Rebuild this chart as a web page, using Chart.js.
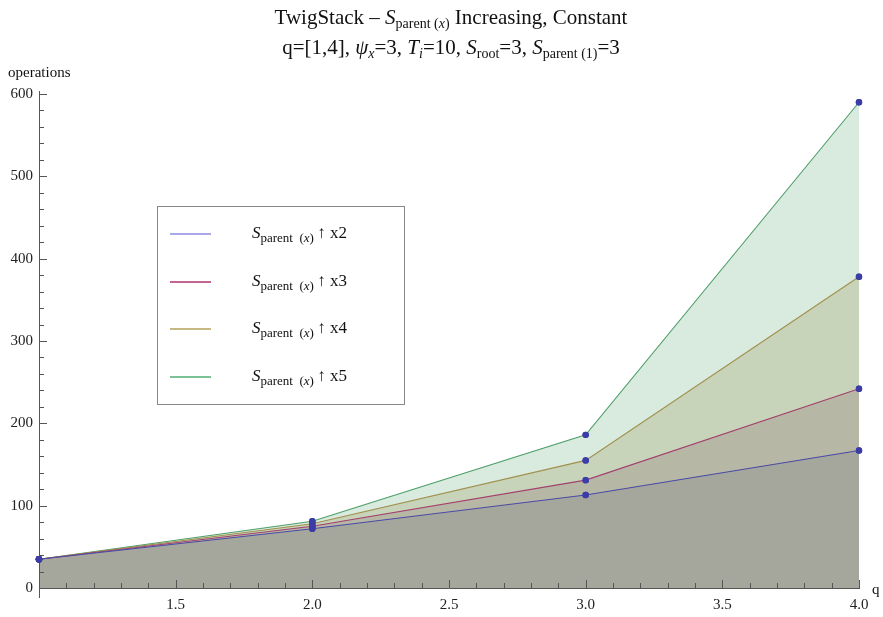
<!DOCTYPE html>
<html>
<head>
<meta charset="utf-8">
<script src="https://cdn.jsdelivr.net/npm/chart.js@4.4.1/dist/chart.umd.min.js"></script>
<style>
  html, body { margin: 0; padding: 0; background: #fff; }
  #wrap { width: 883px; height: 617px; position: relative; }
</style>
</head>
<body>
<div id="wrap"><canvas id="c" width="883" height="617"></canvas></div>
<script>
// ---- data ----
const qValues = [1, 2, 3, 4];
const seriesLabels = ['x2', 'x3', 'x4', 'x5'];
const opsX2 = [35, 72, 113, 167];
const opsX3 = [35, 75, 131, 242];
const opsX4 = [35, 78, 155, 378];
const opsX5 = [35, 81, 186, 590];
const xTickValues = [1.5, 2.0, 2.5, 3.0, 3.5, 4.0];
const yTickValues = [0, 100, 200, 300, 400, 500, 600];

const allSeries = [opsX2, opsX3, opsX4, opsX5];
const lineColors = ['#4a4aa8', '#a3406e', '#a0904e', '#4f9f6a'];
const legendColors = ['#8c8ce0', '#b0306c', '#b4a25a', '#4fae74'];
const fillColors = ['rgba(112,120,134,0.25)', 'rgba(136,100,109,0.25)', 'rgba(149,146,74,0.25)', 'rgba(103,171,123,0.25)'];
const pointColor = '#3c3ca8';
const SERIF = '"Liberation Serif", "Times New Roman", serif';

function richWidth(ctx, segs) {
  let w = 0;
  for (const s of segs) { ctx.font = s[1]; w += ctx.measureText(s[0]).width; }
  return w;
}
function drawRich(ctx, segs, x, y, align) {
  let w = richWidth(ctx, segs);
  let cx = align === 'center' ? x - w / 2 : x;
  ctx.textAlign = 'left';
  ctx.textBaseline = 'alphabetic';
  for (const s of segs) {
    ctx.font = s[1];
    ctx.fillText(s[0], cx, y + (s[2] || 0));
    cx += ctx.measureText(s[0]).width;
  }
}

const titlePlugin = {
  id: 'mmaTitle',
  afterDraw(chart) {
    const ctx = chart.ctx;
    ctx.save();
    ctx.fillStyle = '#111';
    const N = '21px ' + SERIF, I = 'italic 21px ' + SERIF;
    const sN = '14px ' + SERIF, sI = 'italic 14px ' + SERIF;
    const line1 = [
      ['TwigStack \u2013 ', N], ['S', I], ['parent (', sN, 4], ['x', sI, 4], [')', sN, 4],
      [' Increasing, Constant', N]
    ];
    const line2 = [
      ['q=[1,4], ', N], ['\u03C8', I], ['x', sI, 4], ['=3, ', N],
      ['T', I], ['i', sI, 4], ['=10, ', N],
      ['S', I], ['root', sN, 4], ['=3, ', N],
      ['S', I], ['parent (1)', sN, 4], ['=3', N]
    ];
    drawRich(ctx, line1, 451, 24, 'center');
    drawRich(ctx, line2, 451, 54, 'center');
    ctx.font = '15px ' + SERIF;
    ctx.fillText('operations', 8, 77);
    ctx.fillText('q', 872, 594);
    ctx.restore();
  }
};

const axesPlugin = {
  id: 'mmaAxes',
  afterDatasetsDraw(chart) {
    const ctx = chart.ctx;
    const xs = chart.scales.x, ys = chart.scales.y;
    const x0 = xs.getPixelForValue(1), x1 = xs.getPixelForValue(4);
    const y0 = ys.getPixelForValue(0), y1 = ys.getPixelForValue(600);
    ctx.save();
    ctx.strokeStyle = '#555';
    ctx.lineWidth = 1;
    ctx.beginPath();
    ctx.moveTo(Math.round(x0) + 0.5, y1 - 3);
    ctx.lineTo(Math.round(x0) + 0.5, y0 + 10);
    ctx.moveTo(x0, Math.round(y0) + 0.5);
    ctx.lineTo(x1 + 1, Math.round(y0) + 0.5);
    for (let v = 0; v <= 600; v += 20) {
      const py = Math.round(ys.getPixelForValue(v)) + 0.5;
      const len = v % 100 === 0 ? 8 : 5;
      ctx.moveTo(x0, py); ctx.lineTo(x0 + len, py);
    }
    for (let k = 11; k <= 40; k++) {
      const v = k / 10;
      const px = Math.round(xs.getPixelForValue(v)) + 0.5;
      const len = k % 5 === 0 ? 8 : 5;
      ctx.moveTo(px, y0); ctx.lineTo(px, y0 - len);
    }
    ctx.stroke();
    chart.data.datasets.forEach((ds) => {
      ds.data.forEach(p => {
        ctx.fillStyle = pointColor;
        ctx.beginPath();
        ctx.arc(xs.getPixelForValue(p.x), ys.getPixelForValue(p.y), 3.2, 0, Math.PI * 2);
        ctx.fill();
      });
    });
    ctx.restore();
  }
};

const legendPlugin = {
  id: 'mmaLegend',
  afterDraw(chart) {
    const ctx = chart.ctx;
    ctx.save();
    ctx.fillStyle = '#fff';
    ctx.fillRect(157, 206, 247, 198);
    ctx.strokeStyle = '#888';
    ctx.lineWidth = 1;
    ctx.strokeRect(157.5, 206.5, 247, 198);
    const rows = [234, 282, 329, 377];
    chart.data.datasets.forEach((ds, i) => {
      const y = rows[i];
      ctx.strokeStyle = legendColors[i];
      ctx.lineWidth = 1.5;
      ctx.beginPath();
      ctx.moveTo(170, y); ctx.lineTo(211, y);
      ctx.stroke();
      ctx.fillStyle = '#111';
      const segs = [
        ['S', 'italic 17px ' + SERIF], ['parent ', '13px ' + SERIF, 4], [' (', '13px ' + SERIF, 4],
        ['x', 'italic 13px ' + SERIF, 4], [') ', '13px ' + SERIF, 4],
        ['\u2191 ' + seriesLabels[i], '17px ' + SERIF]
      ];
      drawRich(ctx, segs, 252, y + 4, 'left');
    });
    ctx.restore();
  }
};

const datasets = allSeries.map((vals, i) => ({
  label: 'S parent (x) \u2191 ' + seriesLabels[i],
  data: qValues.map((q, j) => ({ x: q, y: vals[j] })),
  borderColor: lineColors[i],
  backgroundColor: fillColors[i],
  borderWidth: 1.1,
  fill: 'origin',
  tension: 0,
  clip: false,
  pointRadius: 3.2,
  pointBackgroundColor: pointColor,
  pointBorderColor: pointColor,
  pointBorderWidth: 0
}));

new Chart(document.getElementById('c'), {
  type: 'line',
  data: { datasets },
  options: {
    responsive: false,
    animation: false,
    devicePixelRatio: 1,
    layout: { padding: { left: 0, top: 94, right: 24, bottom: 0 } },
    plugins: { legend: { display: false }, title: { display: false }, tooltip: { enabled: false } },
    scales: {
      x: {
        type: 'linear', min: 1, max: 4,
        afterFit(scale) { scale.height = 29; },
        afterBuildTicks(scale) { scale.ticks = xTickValues.map(v => ({ value: v })); },
        grid: { display: false, drawTicks: false },
        border: { display: false },
        ticks: {
          padding: 8, color: '#222',
          font: { family: SERIF, size: 15 },
          callback: v => Number(v).toFixed(1),
          maxRotation: 0, autoSkip: false
        }
      },
      y: {
        type: 'linear', min: 0, max: 600,
        afterFit(scale) { scale.width = 39; },
        afterBuildTicks(scale) { scale.ticks = yTickValues.map(v => ({ value: v })); },
        grid: { display: false, drawTicks: false },
        border: { display: false },
        ticks: {
          padding: 6, color: '#222',
          font: { family: SERIF, size: 15 },
          autoSkip: false
        }
      }
    }
  },
  plugins: [axesPlugin, legendPlugin, titlePlugin]
});
</script>
</body>
</html>
